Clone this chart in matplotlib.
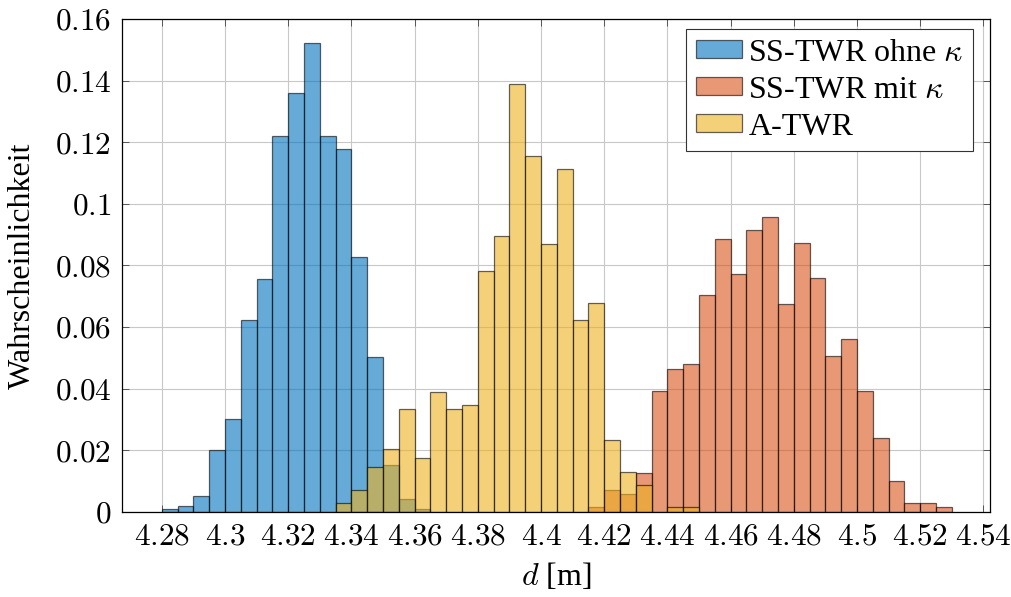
import matplotlib
matplotlib.use('Agg')
import matplotlib.pyplot as plt
import numpy as np
from matplotlib.ticker import FuncFormatter

# histogram data, bin width 0.005 m
bin_width = 0.005

blue_start = 4.28
blue_vals = [0.001, 0.002, 0.005, 0.020, 0.030, 0.0624, 0.0756, 0.1219, 0.1361,
             0.1522, 0.1219, 0.1179, 0.0826, 0.0503, 0.0152, 0.0041, 0.001]

red_start = 4.415
red_vals = [0.0015, 0.0070, 0.0057, 0.0126, 0.0393, 0.0463, 0.0478, 0.0703,
            0.0886, 0.0773, 0.0914, 0.0956, 0.0674, 0.0871, 0.0758, 0.0507,
            0.0562, 0.0393, 0.0238, 0.0099, 0.0028, 0.0028, 0.0014]

yellow_start = 4.335
yellow_vals = [0.0028, 0.0071, 0.0145, 0.0204, 0.0332, 0.0174, 0.0390, 0.0332,
               0.0346, 0.0782, 0.0896, 0.1389, 0.1156, 0.0868, 0.1113, 0.0621,
               0.0679, 0.0232, 0.0130, 0.0087, 0.0, 0.0015, 0.0015]

labels = [r'SS-TWR ohne $\kappa$', r'SS-TWR mit $\kappa$', 'A-TWR']
colors = ['#0072BD', '#D95319', '#EDB120']

xticks = np.round(np.arange(4.28, 4.541, 0.02), 2)
yticks = np.round(np.arange(0, 0.161, 0.02), 2)

plt.rcParams['font.family'] = 'serif'
plt.rcParams['font.serif'] = ['Liberation Serif', 'DejaVu Serif']
plt.rcParams['mathtext.fontset'] = 'cm'

fig = plt.figure(figsize=(10.12, 5.97), dpi=100)
ax = fig.add_axes([0.1209, 0.1429, 0.8571, 0.8253])

series = [(blue_start, blue_vals), (red_start, red_vals), (yellow_start, yellow_vals)]
for (start, vals), lab, col in zip(series, labels, colors):
    vals = np.array(vals)
    left = start + bin_width * np.arange(len(vals))
    keep = vals > 0
    ax.bar(left[keep], vals[keep], width=bin_width, align='edge',
           facecolor=col, alpha=0.6, edgecolor='black', linewidth=0.9,
           label=lab)

ax.set_xlim(4.2675, 4.542)
ax.set_ylim(0, 0.16)
ax.set_xticks(xticks)
ax.set_yticks(yticks)

def fmt(v, pos):
    s = ('%.2f' % v).rstrip('0').rstrip('.')
    return '$' + s + '$'

ax.xaxis.set_major_formatter(FuncFormatter(fmt))
ax.yaxis.set_major_formatter(FuncFormatter(fmt))
ax.tick_params(direction='in', top=True, right=True, labelsize=22.5, length=5,
               width=0.6, colors='#444444', labelcolor='black')
ax.tick_params(axis='x', pad=8)
ax.tick_params(axis='y', pad=8)

ax.set_axisbelow(True)
ax.grid(True, color='#c8c8c8', linewidth=0.8)
for s in ax.spines.values():
    s.set_linewidth(0.9)
    s.set_color('black')

ax.set_xlabel(r'$d$ [m]', fontsize=23)
ax.set_ylabel('Wahrscheinlichkeit', fontsize=23)
ax.xaxis.set_label_coords(0.5, -0.10)
ax.yaxis.set_label_coords(-0.098, 0.5)

leg = ax.legend(loc='upper right', bbox_to_anchor=(973 / 1012, 1 - 29 / 597),
                bbox_transform=fig.transFigure, borderaxespad=0,
                fontsize=23, frameon=True, fancybox=False,
                edgecolor='#333333', framealpha=1, borderpad=0.3,
                handlelength=1.45, handleheight=0.5, handletextpad=0.2,
                labelspacing=0.25)
leg.get_frame().set_linewidth(0.8)

fig.savefig('out.png', dpi=100)
